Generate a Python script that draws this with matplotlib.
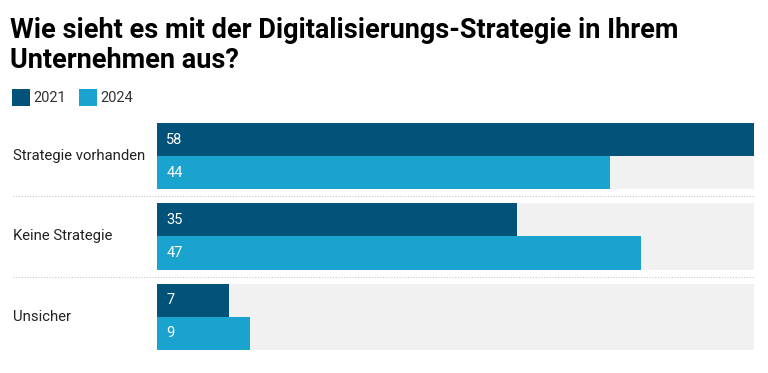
import matplotlib
matplotlib.use("Agg")
import matplotlib.pyplot as plt
from matplotlib.transforms import blended_transform_factory
from matplotlib.patches import Rectangle

categories = ["Strategie vorhanden", "Keine Strategie", "Unsicher"]
years = ["2021", "2024"]
v2021 = [58, 35, 7]
v2024 = [44, 47, 9]
xmax = 58

DARK = "#02527a"
LIGHT = "#1ba3cf"
BG = "#f1f1f1"
plt.rcParams["font.family"] = ["Roboto", "DejaVu Sans"]

W, H = 768, 373
fig = plt.figure(figsize=(W / 100, H / 100), dpi=100)

# Plotbereich in Pixeln der Vorlage
x0, x1, y0, y1 = 157, 754, 123, 350
ax = fig.add_axes([x0 / W, 1 - y1 / H, (x1 - x0) / W, (y1 - y0) / H])
bh = 0.41
ax.set_xlim(0, xmax)
ax.set_ylim(len(categories) - 1 + bh, -bh)
ax.axis("off")

bt = blended_transform_factory(fig.transFigure, ax.transData)
for i, (a, b) in enumerate(zip(v2021, v2024)):
    ax.barh(i, xmax, height=2 * bh, color=BG, lw=0)
    ax.barh(i - bh / 2, a, height=bh, color=DARK, lw=0)
    ax.barh(i + bh / 2, b, height=bh, color=LIGHT, lw=0)
    ax.text(0.9, i - bh / 2, str(a), color="white", fontsize=10.5, va="center", ha="left")
    ax.text(0.9, i + bh / 2, str(b), color="white", fontsize=10.5, va="center", ha="left")
    ax.text(13 / W, i, categories[i], fontsize=10.7, color="#222222", va="center", ha="left",
            transform=bt)

for i in range(len(categories) - 1):
    ax.plot([13 / W, x1 / W], [i + 0.5, i + 0.5], transform=bt, color="#c8c8c8",
            lw=0.8, ls=(0, (1, 1.5)), clip_on=False)

fig.text(10 / W, 1 - 37.5 / H, "Wie sieht es mit der Digitalisierungs-Strategie in Ihrem",
         fontsize=19.5, fontweight="bold", ha="left", va="baseline", color="#000000")
fig.text(10 / W, 1 - 68 / H, "Unternehmen aus?",
         fontsize=19.5, fontweight="bold", ha="left", va="baseline", color="#000000")

# Legende
lx = 12
for yr, col in zip(years, [DARK, LIGHT]):
    fig.patches.append(Rectangle((lx / W, 1 - 106 / H), 18 / W, 17 / H,
                                 transform=fig.transFigure, color=col, lw=0))
    fig.text((lx + 21) / W, 1 - 97.5 / H, yr, fontsize=10.5, color="#333333",
             va="center", ha="left")
    lx += 67

fig.savefig("out.png", dpi=100)
